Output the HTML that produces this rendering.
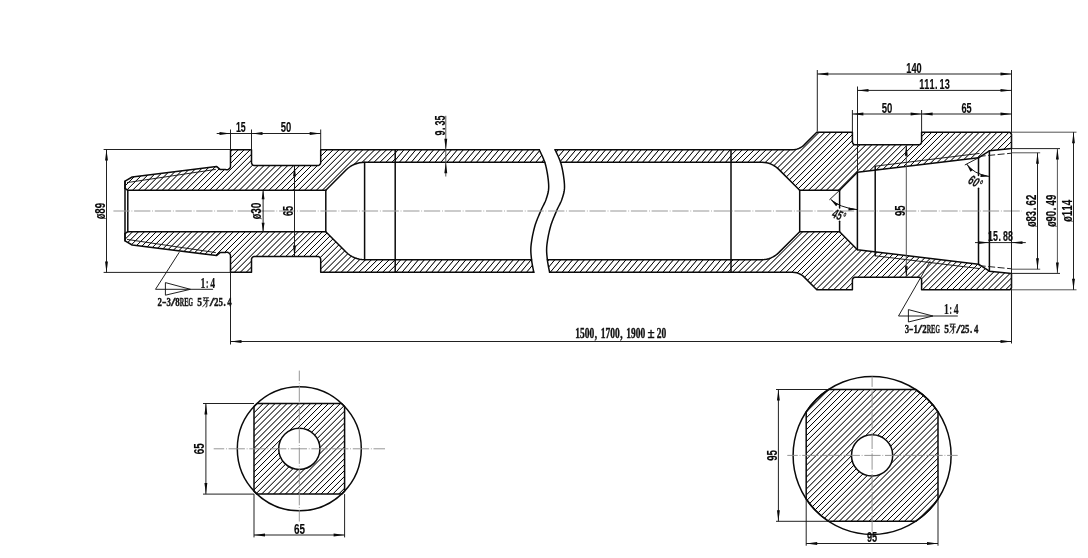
<!DOCTYPE html>
<html><head><meta charset="utf-8"><title>drawing</title>
<style>html,body{margin:0;padding:0;background:#fff}svg{display:block;will-change:transform}</style>
</head><body>
<svg width="1088" height="558" viewBox="0 0 1088 558">
<defs>
<clipPath id="cA"><rect x="0" y="0" width="395.2" height="558"/><rect x="731" y="0" width="357" height="558"/></clipPath>
<clipPath id="cB"><rect x="395.2" y="0" width="335.8" height="558"/></clipPath>
<style>
.k{fill:none;stroke:#0a0a0a;stroke-width:1.5;stroke-linejoin:round;stroke-linecap:round}
.t{fill:none;stroke:#151515;stroke-width:0.95}
.k2{fill:none;stroke:#111;stroke-width:1.0}
.g{fill:none;stroke:#4a4a4a;stroke-width:0.95}
.c{fill:none;stroke:#989898;stroke-width:1.15;stroke-dasharray:16.3 1.8 0.8 1.8}
.c2{fill:none;stroke:#8a8a8a;stroke-width:0.9;stroke-dasharray:16.3 1.8 0.8 1.8;stroke-dashoffset:5.8}
.hl{fill:none;stroke:#000;stroke-width:0.99}
.hl2{fill:none;stroke:#000;stroke-width:0.99;stroke-opacity:0.3}
.a{fill:#0a0a0a;stroke:none}
.n{font-family:"Liberation Sans",sans-serif;font-weight:bold;fill:#0a0a0a;stroke:#0a0a0a;stroke-width:0.15}
.i{font-family:"Liberation Sans",sans-serif;font-style:italic;font-weight:bold;fill:#111;stroke:#111;stroke-width:0.2}
.s2{font-family:"Liberation Serif",serif;font-weight:bold;fill:#111;stroke:#111;stroke-width:0.2}
.s{font-family:"Liberation Serif",serif;font-weight:bold;fill:#111;stroke:#111;stroke-width:0.4}
</style>
</defs>
<rect width="1088" height="558" fill="#fff"/>
<clipPath id="pA" clip-path="url(#cA)"><path d="M125,188.3 L125,181.2 L132.2,177 L216.5,166.4 L220.3,169.6 L225.6,169.6 L226.16,169.64 L227.18,169.68 L228.17,169.44 L229.05,168.94 L229.77,168.21 L230.26,167.32 L230.49,166.32 L230.5,149.7 L251.5,149.7 L251.5,162.5 L251.5,162.5 L251.6,163.28 L251.9,164 L252.38,164.62 L253,165.1 L253.72,165.4 L254.5,165.5 L317.7,165.5 L318.48,165.4 L319.2,165.1 L319.82,164.62 L320.3,164 L320.6,163.28 L320.7,162.5 L320.7,149.7 L539.3,149.7 L539.61,150.42 L540.02,151.3 L540.51,152.32 L541.05,153.46 L541.64,154.7 L542.26,156.04 L542.88,157.45 L543.5,158.91 L544.1,160.42 L544.66,161.94 L544.78,162.3 L364.6,162.3 L364.6,162.3 L362.02,162.43 L359.47,162.81 L356.97,163.43 L354.54,164.3 L352.2,165.41 L349.99,166.73 L347.92,168.27 L346,170 L325.8,190.3 L127.8,190.3Z M555.1,149.7 L792.6,149.7 L792.6,149.7 L794.74,149.56 L796.84,149.14 L798.88,148.45 L800.8,147.5 L802.58,146.31 L804.2,144.9 L816.8,132.2 L852.4,132.2 L852.4,141.8 L852.4,141.8 L852.5,142.58 L852.8,143.3 L853.28,143.92 L853.9,144.4 L854.62,144.7 L855.4,144.8 L918.6,144.8 L919.38,144.7 L920.1,144.4 L920.72,143.92 L921.2,143.3 L921.5,142.58 L921.6,141.8 L921.6,132.2 L1010,132.2 L1011.5,134.2 L1011.5,148.6 L989.4,150.8 L978.5,157.8 L857.4,172.3 L839.6,190.3 L799.7,190.3 L778.55,169.15 L776.84,167.61 L775,166.24 L773.03,165.06 L770.95,164.08 L768.79,163.31 L766.57,162.75 L764.29,162.41 L762,162.3 L560.58,162.3 L560.46,161.94 L559.9,160.42 L559.3,158.91 L558.68,157.45 L558.06,156.04 L557.44,154.7 L556.85,153.46 L556.31,152.32 L555.82,151.3 L555.41,150.42Z M125,233.7 L125,240.8 L132.2,245 L216.5,255.6 L220.3,252.4 L225.6,252.4 L226.16,252.36 L227.18,252.32 L228.17,252.56 L229.05,253.06 L229.77,253.79 L230.26,254.68 L230.49,255.68 L230.5,272.3 L251.5,272.3 L251.5,259.5 L251.5,259.5 L251.6,258.72 L251.9,258 L252.38,257.38 L253,256.9 L253.72,256.6 L254.5,256.5 L317.7,256.5 L318.48,256.6 L319.2,256.9 L319.82,257.38 L320.3,258 L320.6,258.72 L320.7,259.5 L320.7,272.3 L533.8,272.3 L533.69,271.71 L533.54,270.98 L533.37,270.13 L533.17,269.17 L532.96,268.13 L532.74,267.02 L532.51,265.87 L532.3,264.68 L532.09,263.48 L531.9,262.29 L531.73,261.12 L531.6,260 L531.57,259.7 L364.6,259.7 L364.6,259.7 L362.02,259.57 L359.47,259.19 L356.97,258.57 L354.54,257.7 L352.2,256.59 L349.99,255.27 L347.92,253.73 L346,252 L325.8,231.7 L127.8,231.7Z M549.6,272.3 L792.6,272.3 L792.6,272.3 L794.74,272.44 L796.84,272.86 L798.88,273.55 L800.8,274.5 L802.58,275.69 L804.2,277.1 L816.8,289.8 L852.4,289.8 L852.4,280.2 L852.4,280.2 L852.5,279.42 L852.8,278.7 L853.28,278.08 L853.9,277.6 L854.62,277.3 L855.4,277.2 L918.6,277.2 L919.38,277.3 L920.1,277.6 L920.72,278.08 L921.2,278.7 L921.5,279.42 L921.6,280.2 L921.6,289.8 L1010,289.8 L1011.5,287.8 L1011.5,273.4 L989.4,271.2 L978.5,264.2 L857.4,249.7 L839.6,231.7 L799.7,231.7 L778.55,252.85 L776.84,254.39 L775,255.76 L773.03,256.94 L770.95,257.92 L768.79,258.69 L766.57,259.25 L764.29,259.59 L762,259.7 L547.37,259.7 L547.4,260 L547.53,261.12 L547.7,262.29 L547.89,263.48 L548.1,264.68 L548.31,265.87 L548.54,267.02 L548.76,268.13 L548.97,269.17 L549.17,270.13 L549.34,270.98 L549.49,271.71Z"/></clipPath>
<clipPath id="pB" clip-path="url(#cB)"><path d="M125,188.3 L125,181.2 L132.2,177 L216.5,166.4 L220.3,169.6 L225.6,169.6 L226.16,169.64 L227.18,169.68 L228.17,169.44 L229.05,168.94 L229.77,168.21 L230.26,167.32 L230.49,166.32 L230.5,149.7 L251.5,149.7 L251.5,162.5 L251.5,162.5 L251.6,163.28 L251.9,164 L252.38,164.62 L253,165.1 L253.72,165.4 L254.5,165.5 L317.7,165.5 L318.48,165.4 L319.2,165.1 L319.82,164.62 L320.3,164 L320.6,163.28 L320.7,162.5 L320.7,149.7 L539.3,149.7 L539.61,150.42 L540.02,151.3 L540.51,152.32 L541.05,153.46 L541.64,154.7 L542.26,156.04 L542.88,157.45 L543.5,158.91 L544.1,160.42 L544.66,161.94 L544.78,162.3 L364.6,162.3 L364.6,162.3 L362.02,162.43 L359.47,162.81 L356.97,163.43 L354.54,164.3 L352.2,165.41 L349.99,166.73 L347.92,168.27 L346,170 L325.8,190.3 L127.8,190.3Z M555.1,149.7 L792.6,149.7 L792.6,149.7 L794.74,149.56 L796.84,149.14 L798.88,148.45 L800.8,147.5 L802.58,146.31 L804.2,144.9 L816.8,132.2 L852.4,132.2 L852.4,141.8 L852.4,141.8 L852.5,142.58 L852.8,143.3 L853.28,143.92 L853.9,144.4 L854.62,144.7 L855.4,144.8 L918.6,144.8 L919.38,144.7 L920.1,144.4 L920.72,143.92 L921.2,143.3 L921.5,142.58 L921.6,141.8 L921.6,132.2 L1010,132.2 L1011.5,134.2 L1011.5,148.6 L989.4,150.8 L978.5,157.8 L857.4,172.3 L839.6,190.3 L799.7,190.3 L778.55,169.15 L776.84,167.61 L775,166.24 L773.03,165.06 L770.95,164.08 L768.79,163.31 L766.57,162.75 L764.29,162.41 L762,162.3 L560.58,162.3 L560.46,161.94 L559.9,160.42 L559.3,158.91 L558.68,157.45 L558.06,156.04 L557.44,154.7 L556.85,153.46 L556.31,152.32 L555.82,151.3 L555.41,150.42Z M125,233.7 L125,240.8 L132.2,245 L216.5,255.6 L220.3,252.4 L225.6,252.4 L226.16,252.36 L227.18,252.32 L228.17,252.56 L229.05,253.06 L229.77,253.79 L230.26,254.68 L230.49,255.68 L230.5,272.3 L251.5,272.3 L251.5,259.5 L251.5,259.5 L251.6,258.72 L251.9,258 L252.38,257.38 L253,256.9 L253.72,256.6 L254.5,256.5 L317.7,256.5 L318.48,256.6 L319.2,256.9 L319.82,257.38 L320.3,258 L320.6,258.72 L320.7,259.5 L320.7,272.3 L533.8,272.3 L533.69,271.71 L533.54,270.98 L533.37,270.13 L533.17,269.17 L532.96,268.13 L532.74,267.02 L532.51,265.87 L532.3,264.68 L532.09,263.48 L531.9,262.29 L531.73,261.12 L531.6,260 L531.57,259.7 L364.6,259.7 L364.6,259.7 L362.02,259.57 L359.47,259.19 L356.97,258.57 L354.54,257.7 L352.2,256.59 L349.99,255.27 L347.92,253.73 L346,252 L325.8,231.7 L127.8,231.7Z M549.6,272.3 L792.6,272.3 L792.6,272.3 L794.74,272.44 L796.84,272.86 L798.88,273.55 L800.8,274.5 L802.58,275.69 L804.2,277.1 L816.8,289.8 L852.4,289.8 L852.4,280.2 L852.4,280.2 L852.5,279.42 L852.8,278.7 L853.28,278.08 L853.9,277.6 L854.62,277.3 L855.4,277.2 L918.6,277.2 L919.38,277.3 L920.1,277.6 L920.72,278.08 L921.2,278.7 L921.5,279.42 L921.6,280.2 L921.6,289.8 L1010,289.8 L1011.5,287.8 L1011.5,273.4 L989.4,271.2 L978.5,264.2 L857.4,249.7 L839.6,231.7 L799.7,231.7 L778.55,252.85 L776.84,254.39 L775,255.76 L773.03,256.94 L770.95,257.92 L768.79,258.69 L766.57,259.25 L764.29,259.59 L762,259.7 L547.37,259.7 L547.4,260 L547.53,261.12 L547.7,262.29 L547.89,263.48 L548.1,264.68 L548.31,265.87 L548.54,267.02 L548.76,268.13 L548.97,269.17 L549.17,270.13 L549.34,270.98 L549.49,271.71Z"/></clipPath>
<g clip-path="url(#pA)"><path class="hl" d="M117.73,128 L-48.27,294 M123.66,128 L-42.34,294 M129.59,128 L-36.41,294 M135.52,128 L-30.48,294 M141.45,128 L-24.55,294 M147.38,128 L-18.62,294 M153.31,128 L-12.69,294 M159.24,128 L-6.76,294 M165.17,128 L-0.83,294 M171.1,128 L5.1,294 M177.03,128 L11.03,294 M182.96,128 L16.96,294 M188.89,128 L22.89,294 M194.82,128 L28.82,294 M200.75,128 L34.75,294 M206.68,128 L40.68,294 M212.61,128 L46.61,294 M218.54,128 L52.54,294 M224.47,128 L58.47,294 M230.4,128 L64.4,294 M236.33,128 L70.33,294 M242.26,128 L76.26,294 M248.19,128 L82.19,294 M254.12,128 L88.12,294 M260.05,128 L94.05,294 M265.98,128 L99.98,294 M271.91,128 L105.91,294 M277.84,128 L111.84,294 M283.77,128 L117.77,294 M289.7,128 L123.7,294 M295.63,128 L129.63,294 M301.56,128 L135.56,294 M307.49,128 L141.49,294 M313.42,128 L147.42,294 M319.35,128 L153.35,294 M325.28,128 L159.28,294 M331.21,128 L165.21,294 M337.14,128 L171.14,294 M343.07,128 L177.07,294 M349,128 L183,294 M354.93,128 L188.93,294 M360.86,128 L194.86,294 M366.79,128 L200.79,294 M372.72,128 L206.72,294 M378.65,128 L212.65,294 M384.58,128 L218.58,294 M390.51,128 L224.51,294 M396.44,128 L230.44,294 M402.37,128 L236.37,294 M408.3,128 L242.3,294 M414.23,128 L248.23,294 M420.16,128 L254.16,294 M426.09,128 L260.09,294 M432.02,128 L266.02,294 M437.95,128 L271.95,294 M443.88,128 L277.88,294 M449.81,128 L283.81,294 M455.74,128 L289.74,294 M461.67,128 L295.67,294 M467.6,128 L301.6,294 M473.53,128 L307.53,294 M479.46,128 L313.46,294 M485.39,128 L319.39,294 M491.32,128 L325.32,294 M497.25,128 L331.25,294 M503.18,128 L337.18,294 M509.11,128 L343.11,294 M515.04,128 L349.04,294 M520.97,128 L354.97,294 M526.9,128 L360.9,294 M532.83,128 L366.83,294 M538.76,128 L372.76,294 M544.69,128 L378.69,294 M550.62,128 L384.62,294 M556.55,128 L390.55,294 M562.48,128 L396.48,294"/><path class="hl" d="M728.52,128 L562.52,294 M734.45,128 L568.45,294 M740.38,128 L574.38,294 M746.31,128 L580.31,294 M752.24,128 L586.24,294 M758.17,128 L592.17,294 M764.1,128 L598.1,294 M770.03,128 L604.03,294 M775.96,128 L609.96,294 M781.89,128 L615.89,294 M787.82,128 L621.82,294 M793.75,128 L627.75,294 M799.68,128 L633.68,294 M805.61,128 L639.61,294 M811.54,128 L645.54,294 M817.47,128 L651.47,294 M823.4,128 L657.4,294 M829.33,128 L663.33,294 M835.26,128 L669.26,294 M841.19,128 L675.19,294 M847.12,128 L681.12,294 M853.05,128 L687.05,294 M858.98,128 L692.98,294 M864.91,128 L698.91,294 M870.84,128 L704.84,294 M876.77,128 L710.77,294 M882.7,128 L716.7,294 M888.63,128 L722.63,294 M894.56,128 L728.56,294 M900.49,128 L734.49,294 M906.42,128 L740.42,294 M912.35,128 L746.35,294 M918.28,128 L752.28,294 M924.21,128 L758.21,294 M930.14,128 L764.14,294 M936.07,128 L770.07,294 M942,128 L776,294 M947.93,128 L781.93,294 M953.86,128 L787.86,294 M959.79,128 L793.79,294 M965.72,128 L799.72,294 M971.65,128 L805.65,294 M977.58,128 L811.58,294 M983.51,128 L817.51,294 M989.44,128 L823.44,294 M995.37,128 L829.37,294 M1001.3,128 L835.3,294 M1007.23,128 L841.23,294 M1013.16,128 L847.16,294 M1019.09,128 L853.09,294 M1025.02,128 L859.02,294 M1030.95,128 L864.95,294 M1036.88,128 L870.88,294 M1042.81,128 L876.81,294 M1048.74,128 L882.74,294 M1054.67,128 L888.67,294 M1060.6,128 L894.6,294 M1066.53,128 L900.53,294 M1072.46,128 L906.46,294 M1078.39,128 L912.39,294 M1084.32,128 L918.32,294 M1090.25,128 L924.25,294 M1096.18,128 L930.18,294 M1102.11,128 L936.11,294 M1108.04,128 L942.04,294 M1113.97,128 L947.97,294 M1119.9,128 L953.9,294 M1125.83,128 L959.83,294 M1131.76,128 L965.76,294 M1137.69,128 L971.69,294 M1143.62,128 L977.62,294 M1149.55,128 L983.55,294 M1155.48,128 L989.48,294 M1161.41,128 L995.41,294 M1167.34,128 L1001.34,294 M1173.27,128 L1007.27,294 M1179.2,128 L1013.2,294 M1185.13,128 L1019.13,294"/><path class="hl2" d="M117.73,128 L-48.27,294 M123.66,128 L-42.34,294 M129.59,128 L-36.41,294 M135.52,128 L-30.48,294 M141.45,128 L-24.55,294 M147.38,128 L-18.62,294 M153.31,128 L-12.69,294 M159.24,128 L-6.76,294 M165.17,128 L-0.83,294 M171.1,128 L5.1,294 M177.03,128 L11.03,294 M182.96,128 L16.96,294 M188.89,128 L22.89,294 M194.82,128 L28.82,294 M200.75,128 L34.75,294 M206.68,128 L40.68,294 M212.61,128 L46.61,294 M218.54,128 L52.54,294 M224.47,128 L58.47,294 M230.4,128 L64.4,294 M236.33,128 L70.33,294 M242.26,128 L76.26,294 M248.19,128 L82.19,294 M254.12,128 L88.12,294 M260.05,128 L94.05,294 M265.98,128 L99.98,294 M271.91,128 L105.91,294 M277.84,128 L111.84,294 M283.77,128 L117.77,294 M289.7,128 L123.7,294 M295.63,128 L129.63,294 M301.56,128 L135.56,294 M307.49,128 L141.49,294 M313.42,128 L147.42,294 M319.35,128 L153.35,294 M325.28,128 L159.28,294 M331.21,128 L165.21,294 M337.14,128 L171.14,294 M343.07,128 L177.07,294 M349,128 L183,294 M354.93,128 L188.93,294 M360.86,128 L194.86,294 M366.79,128 L200.79,294 M372.72,128 L206.72,294 M378.65,128 L212.65,294 M384.58,128 L218.58,294 M390.51,128 L224.51,294 M396.44,128 L230.44,294 M402.37,128 L236.37,294 M408.3,128 L242.3,294 M414.23,128 L248.23,294 M420.16,128 L254.16,294 M426.09,128 L260.09,294 M432.02,128 L266.02,294 M437.95,128 L271.95,294 M443.88,128 L277.88,294 M449.81,128 L283.81,294 M455.74,128 L289.74,294 M461.67,128 L295.67,294 M467.6,128 L301.6,294 M473.53,128 L307.53,294 M479.46,128 L313.46,294 M485.39,128 L319.39,294 M491.32,128 L325.32,294 M497.25,128 L331.25,294 M503.18,128 L337.18,294 M509.11,128 L343.11,294 M515.04,128 L349.04,294 M520.97,128 L354.97,294 M526.9,128 L360.9,294 M532.83,128 L366.83,294 M538.76,128 L372.76,294 M544.69,128 L378.69,294 M550.62,128 L384.62,294 M556.55,128 L390.55,294 M562.48,128 L396.48,294"/><path class="hl2" d="M728.52,128 L562.52,294 M734.45,128 L568.45,294 M740.38,128 L574.38,294 M746.31,128 L580.31,294 M752.24,128 L586.24,294 M758.17,128 L592.17,294 M764.1,128 L598.1,294 M770.03,128 L604.03,294 M775.96,128 L609.96,294 M781.89,128 L615.89,294 M787.82,128 L621.82,294 M793.75,128 L627.75,294 M799.68,128 L633.68,294 M805.61,128 L639.61,294 M811.54,128 L645.54,294 M817.47,128 L651.47,294 M823.4,128 L657.4,294 M829.33,128 L663.33,294 M835.26,128 L669.26,294 M841.19,128 L675.19,294 M847.12,128 L681.12,294 M853.05,128 L687.05,294 M858.98,128 L692.98,294 M864.91,128 L698.91,294 M870.84,128 L704.84,294 M876.77,128 L710.77,294 M882.7,128 L716.7,294 M888.63,128 L722.63,294 M894.56,128 L728.56,294 M900.49,128 L734.49,294 M906.42,128 L740.42,294 M912.35,128 L746.35,294 M918.28,128 L752.28,294 M924.21,128 L758.21,294 M930.14,128 L764.14,294 M936.07,128 L770.07,294 M942,128 L776,294 M947.93,128 L781.93,294 M953.86,128 L787.86,294 M959.79,128 L793.79,294 M965.72,128 L799.72,294 M971.65,128 L805.65,294 M977.58,128 L811.58,294 M983.51,128 L817.51,294 M989.44,128 L823.44,294 M995.37,128 L829.37,294 M1001.3,128 L835.3,294 M1007.23,128 L841.23,294 M1013.16,128 L847.16,294 M1019.09,128 L853.09,294 M1025.02,128 L859.02,294 M1030.95,128 L864.95,294 M1036.88,128 L870.88,294 M1042.81,128 L876.81,294 M1048.74,128 L882.74,294 M1054.67,128 L888.67,294 M1060.6,128 L894.6,294 M1066.53,128 L900.53,294 M1072.46,128 L906.46,294 M1078.39,128 L912.39,294 M1084.32,128 L918.32,294 M1090.25,128 L924.25,294 M1096.18,128 L930.18,294 M1102.11,128 L936.11,294 M1108.04,128 L942.04,294 M1113.97,128 L947.97,294 M1119.9,128 L953.9,294 M1125.83,128 L959.83,294 M1131.76,128 L965.76,294 M1137.69,128 L971.69,294 M1143.62,128 L977.62,294 M1149.55,128 L983.55,294 M1155.48,128 L989.48,294 M1161.41,128 L995.41,294 M1167.34,128 L1001.34,294 M1173.27,128 L1007.27,294 M1179.2,128 L1013.2,294 M1185.13,128 L1019.13,294"/></g>
<g clip-path="url(#pB)"><path class="hl" d="M389.35,146 L280.28,276 M395.28,146 L286.21,276 M401.21,146 L292.14,276 M407.14,146 L298.07,276 M413.07,146 L304,276 M419,146 L309.93,276 M424.93,146 L315.86,276 M430.86,146 L321.79,276 M436.79,146 L327.72,276 M442.72,146 L333.65,276 M448.65,146 L339.58,276 M454.58,146 L345.51,276 M460.51,146 L351.44,276 M466.44,146 L357.37,276 M472.37,146 L363.3,276 M478.3,146 L369.23,276 M484.23,146 L375.16,276 M490.16,146 L381.09,276 M496.09,146 L387.02,276 M502.02,146 L392.95,276 M507.95,146 L398.88,276 M513.88,146 L404.81,276 M519.81,146 L410.74,276 M525.74,146 L416.67,276 M531.67,146 L422.6,276 M537.6,146 L428.53,276 M543.53,146 L434.46,276 M549.46,146 L440.39,276 M555.39,146 L446.32,276 M561.32,146 L452.25,276 M567.25,146 L458.18,276 M573.18,146 L464.11,276 M579.11,146 L470.04,276 M585.04,146 L475.97,276 M590.97,146 L481.9,276 M596.9,146 L487.83,276 M602.83,146 L493.76,276 M608.76,146 L499.69,276 M614.69,146 L505.62,276 M620.62,146 L511.55,276 M626.55,146 L517.48,276 M632.48,146 L523.41,276 M638.41,146 L529.34,276 M644.34,146 L535.27,276 M650.27,146 L541.2,276 M656.2,146 L547.13,276 M662.13,146 L553.06,276 M668.06,146 L558.99,276 M673.99,146 L564.92,276 M679.92,146 L570.85,276 M685.85,146 L576.78,276 M691.78,146 L582.71,276 M697.71,146 L588.64,276 M703.64,146 L594.57,276 M709.57,146 L600.5,276 M715.5,146 L606.43,276 M721.43,146 L612.36,276 M727.36,146 L618.29,276 M733.29,146 L624.22,276 M739.22,146 L630.15,276 M745.15,146 L636.08,276 M751.08,146 L642.01,276 M757.01,146 L647.94,276 M762.94,146 L653.87,276 M768.87,146 L659.8,276 M774.8,146 L665.73,276 M780.73,146 L671.66,276 M786.66,146 L677.59,276 M792.59,146 L683.52,276 M798.52,146 L689.45,276 M804.45,146 L695.38,276 M810.38,146 L701.31,276 M816.31,146 L707.24,276 M822.24,146 L713.17,276 M828.17,146 L719.1,276 M834.1,146 L725.03,276 M840.03,146 L730.96,276 M845.96,146 L736.89,276"/><path class="hl2" d="M389.35,146 L280.28,276 M395.28,146 L286.21,276 M401.21,146 L292.14,276 M407.14,146 L298.07,276 M413.07,146 L304,276 M419,146 L309.93,276 M424.93,146 L315.86,276 M430.86,146 L321.79,276 M436.79,146 L327.72,276 M442.72,146 L333.65,276 M448.65,146 L339.58,276 M454.58,146 L345.51,276 M460.51,146 L351.44,276 M466.44,146 L357.37,276 M472.37,146 L363.3,276 M478.3,146 L369.23,276 M484.23,146 L375.16,276 M490.16,146 L381.09,276 M496.09,146 L387.02,276 M502.02,146 L392.95,276 M507.95,146 L398.88,276 M513.88,146 L404.81,276 M519.81,146 L410.74,276 M525.74,146 L416.67,276 M531.67,146 L422.6,276 M537.6,146 L428.53,276 M543.53,146 L434.46,276 M549.46,146 L440.39,276 M555.39,146 L446.32,276 M561.32,146 L452.25,276 M567.25,146 L458.18,276 M573.18,146 L464.11,276 M579.11,146 L470.04,276 M585.04,146 L475.97,276 M590.97,146 L481.9,276 M596.9,146 L487.83,276 M602.83,146 L493.76,276 M608.76,146 L499.69,276 M614.69,146 L505.62,276 M620.62,146 L511.55,276 M626.55,146 L517.48,276 M632.48,146 L523.41,276 M638.41,146 L529.34,276 M644.34,146 L535.27,276 M650.27,146 L541.2,276 M656.2,146 L547.13,276 M662.13,146 L553.06,276 M668.06,146 L558.99,276 M673.99,146 L564.92,276 M679.92,146 L570.85,276 M685.85,146 L576.78,276 M691.78,146 L582.71,276 M697.71,146 L588.64,276 M703.64,146 L594.57,276 M709.57,146 L600.5,276 M715.5,146 L606.43,276 M721.43,146 L612.36,276 M727.36,146 L618.29,276 M733.29,146 L624.22,276 M739.22,146 L630.15,276 M745.15,146 L636.08,276 M751.08,146 L642.01,276 M757.01,146 L647.94,276 M762.94,146 L653.87,276 M768.87,146 L659.8,276 M774.8,146 L665.73,276 M780.73,146 L671.66,276 M786.66,146 L677.59,276 M792.59,146 L683.52,276 M798.52,146 L689.45,276 M804.45,146 L695.38,276 M810.38,146 L701.31,276 M816.31,146 L707.24,276 M822.24,146 L713.17,276 M828.17,146 L719.1,276 M834.1,146 L725.03,276 M840.03,146 L730.96,276 M845.96,146 L736.89,276"/></g>
<path class="k" d="M125,188.3 L125,181.2 L132.2,177 L216.5,166.4 L220.3,169.6 L225.6,169.6 L226.16,169.64 L227.18,169.68 L228.17,169.44 L229.05,168.94 L229.77,168.21 L230.26,167.32 L230.49,166.32 L230.5,149.7 L251.5,149.7 L251.5,162.5 L251.5,162.5 L251.6,163.28 L251.9,164 L252.38,164.62 L253,165.1 L253.72,165.4 L254.5,165.5 L317.7,165.5 L318.48,165.4 L319.2,165.1 L319.82,164.62 L320.3,164 L320.6,163.28 L320.7,162.5 L320.7,149.7 L539.3,149.7"/>
<path class="k" d="M544.78,162.3 L364.6,162.3 L364.6,162.3 L362.02,162.43 L359.47,162.81 L356.97,163.43 L354.54,164.3 L352.2,165.41 L349.99,166.73 L347.92,168.27 L346,170 L325.8,190.3 L127.8,190.3 L125,188.3"/>
<path class="k" d="M555.1,149.7 L792.6,149.7 L792.6,149.7 L794.74,149.56 L796.84,149.14 L798.88,148.45 L800.8,147.5 L802.58,146.31 L804.2,144.9 L816.8,132.2 L852.4,132.2 L852.4,141.8 L852.4,141.8 L852.5,142.58 L852.8,143.3 L853.28,143.92 L853.9,144.4 L854.62,144.7 L855.4,144.8 L918.6,144.8 L919.38,144.7 L920.1,144.4 L920.72,143.92 L921.2,143.3 L921.5,142.58 L921.6,141.8 L921.6,132.2 L1010,132.2 L1011.5,134.2 L1011.5,148.6 L989.4,150.8 L978.5,157.8 L857.4,172.3 L839.6,190.3 L799.7,190.3 L778.55,169.15 L776.84,167.61 L775,166.24 L773.03,165.06 L770.95,164.08 L768.79,163.31 L766.57,162.75 L764.29,162.41 L762,162.3 L560.58,162.3"/>
<path class="k" d="M125,233.7 L125,240.8 L132.2,245 L216.5,255.6 L220.3,252.4 L225.6,252.4 L226.16,252.36 L227.18,252.32 L228.17,252.56 L229.05,253.06 L229.77,253.79 L230.26,254.68 L230.49,255.68 L230.5,272.3 L251.5,272.3 L251.5,259.5 L251.5,259.5 L251.6,258.72 L251.9,258 L252.38,257.38 L253,256.9 L253.72,256.6 L254.5,256.5 L317.7,256.5 L318.48,256.6 L319.2,256.9 L319.82,257.38 L320.3,258 L320.6,258.72 L320.7,259.5 L320.7,272.3 L533.8,272.3"/>
<path class="k" d="M531.57,259.7 L364.6,259.7 L364.6,259.7 L362.02,259.57 L359.47,259.19 L356.97,258.57 L354.54,257.7 L352.2,256.59 L349.99,255.27 L347.92,253.73 L346,252 L325.8,231.7 L127.8,231.7 L125,233.7"/>
<path class="k" d="M549.6,272.3 L792.6,272.3 L792.6,272.3 L794.74,272.44 L796.84,272.86 L798.88,273.55 L800.8,274.5 L802.58,275.69 L804.2,277.1 L816.8,289.8 L852.4,289.8 L852.4,280.2 L852.4,280.2 L852.5,279.42 L852.8,278.7 L853.28,278.08 L853.9,277.6 L854.62,277.3 L855.4,277.2 L918.6,277.2 L919.38,277.3 L920.1,277.6 L920.72,278.08 L921.2,278.7 L921.5,279.42 L921.6,280.2 L921.6,289.8 L1010,289.8 L1011.5,287.8 L1011.5,273.4 L989.4,271.2 L978.5,264.2 L857.4,249.7 L839.6,231.7 L799.7,231.7 L778.55,252.85 L776.84,254.39 L775,255.76 L773.03,256.94 L770.95,257.92 L768.79,258.69 L766.57,259.25 L764.29,259.59 L762,259.7 L547.37,259.7"/>
<path class="k" d="M539.3,149.7 L539.61,150.42 L540.02,151.3 L540.51,152.32 L541.05,153.46 L541.64,154.7 L542.26,156.04 L542.88,157.45 L543.5,158.91 L544.1,160.42 L544.66,161.94 L545.17,163.48 L545.6,165 L545.99,166.58 L546.37,168.26 L546.73,170.04 L547.08,171.87 L547.4,173.75 L547.7,175.64 L547.97,177.53 L548.2,179.38 L548.39,181.18 L548.54,182.9 L548.65,184.51 L548.7,186 L548.7,187.37 L548.64,188.64 L548.54,189.84 L548.39,190.96 L548.21,192.03 L547.99,193.06 L547.74,194.06 L547.46,195.04 L547.17,196.01 L546.86,196.98 L546.53,197.98 L546.2,199 L545.85,200.02 L545.46,201.01 L545.05,201.98 L544.61,202.93 L544.15,203.87 L543.68,204.81 L543.19,205.77 L542.69,206.74 L542.19,207.74 L541.69,208.78 L541.19,209.86 L540.7,211 L540.2,212.18 L539.69,213.4 L539.16,214.65 L538.62,215.93 L538.07,217.23 L537.53,218.56 L536.99,219.92 L536.47,221.3 L535.96,222.7 L535.48,224.11 L535.02,225.55 L534.6,227 L534.2,228.49 L533.81,230.05 L533.43,231.66 L533.06,233.3 L532.71,234.96 L532.38,236.62 L532.08,238.29 L531.8,239.93 L531.55,241.53 L531.33,243.09 L531.14,244.58 L531,246 L530.9,247.35 L530.84,248.64 L530.82,249.89 L530.83,251.1 L530.87,252.27 L530.94,253.42 L531.02,254.54 L531.13,255.64 L531.24,256.74 L531.36,257.82 L531.48,258.91 L531.6,260 L531.73,261.12 L531.9,262.29 L532.09,263.48 L532.3,264.68 L532.51,265.87 L532.74,267.02 L532.96,268.13 L533.17,269.17 L533.37,270.13 L533.54,270.98 L533.69,271.71 L533.8,272.3"/>
<path class="k" d="M555.1,149.7 L555.41,150.42 L555.82,151.3 L556.31,152.32 L556.85,153.46 L557.44,154.7 L558.06,156.04 L558.68,157.45 L559.3,158.91 L559.9,160.42 L560.46,161.94 L560.97,163.48 L561.4,165 L561.79,166.58 L562.17,168.26 L562.53,170.04 L562.88,171.87 L563.2,173.75 L563.5,175.64 L563.77,177.53 L564,179.38 L564.19,181.18 L564.34,182.9 L564.45,184.51 L564.5,186 L564.5,187.37 L564.44,188.64 L564.34,189.84 L564.19,190.96 L564.01,192.03 L563.79,193.06 L563.54,194.06 L563.26,195.04 L562.97,196.01 L562.66,196.98 L562.33,197.98 L562,199 L561.65,200.02 L561.26,201.01 L560.85,201.98 L560.41,202.93 L559.95,203.87 L559.48,204.81 L558.99,205.77 L558.49,206.74 L557.99,207.74 L557.49,208.78 L556.99,209.86 L556.5,211 L556,212.18 L555.49,213.4 L554.96,214.65 L554.42,215.93 L553.87,217.23 L553.33,218.56 L552.79,219.92 L552.27,221.3 L551.76,222.7 L551.28,224.11 L550.82,225.55 L550.4,227 L550,228.49 L549.61,230.05 L549.23,231.66 L548.86,233.3 L548.51,234.96 L548.18,236.62 L547.88,238.29 L547.6,239.93 L547.35,241.53 L547.13,243.09 L546.94,244.58 L546.8,246 L546.7,247.35 L546.64,248.64 L546.62,249.89 L546.63,251.1 L546.67,252.27 L546.74,253.42 L546.82,254.54 L546.93,255.64 L547.04,256.74 L547.16,257.82 L547.28,258.91 L547.4,260 L547.53,261.12 L547.7,262.29 L547.89,263.48 L548.1,264.68 L548.31,265.87 L548.54,267.02 L548.76,268.13 L548.97,269.17 L549.17,270.13 L549.34,270.98 L549.49,271.71 L549.6,272.3"/>
<line class="k" x1="125" y1="181.2" x2="125" y2="240.8"/>
<line class="k" x1="127.8" y1="190.3" x2="127.8" y2="231.7"/>
<line class="k" x1="325.8" y1="190.3" x2="325.8" y2="231.7"/>
<line class="k" x1="364.6" y1="162.3" x2="364.6" y2="259.7"/>
<line class="k" x1="395.2" y1="149.7" x2="395.2" y2="272.3"/>
<line class="k" x1="731" y1="149.7" x2="731" y2="272.3"/>
<line class="k" x1="799.7" y1="190.3" x2="799.7" y2="231.7"/>
<line class="k" x1="839.6" y1="190.3" x2="839.6" y2="208"/>
<line class="k" x1="839.6" y1="221.2" x2="839.6" y2="231.7"/>
<line class="k" x1="857.4" y1="172.3" x2="857.4" y2="249.7"/>
<line class="k" x1="875.2" y1="166.2" x2="875.2" y2="255.8"/>
<line class="k" x1="978.5" y1="157.8" x2="978.5" y2="175.6"/>
<line class="k" x1="978.5" y1="188.2" x2="978.5" y2="264.2"/>
<line class="k" x1="989.4" y1="150.8" x2="989.4" y2="271.2"/>
<line class="t" x1="127" y1="182.6" x2="215.8" y2="169.4"/>
<line class="t" x1="875.2" y1="166.2" x2="979.5" y2="153.4"/>
<line class="t" stroke-dasharray="7 2.5" x1="978.7" y1="156.4" x2="1011.5" y2="153.2"/>
<line class="t" x1="127" y1="239.4" x2="215.8" y2="252.6"/>
<line class="t" x1="875.2" y1="255.8" x2="979.5" y2="268.6"/>
<line class="t" stroke-dasharray="7 2.5" x1="978.7" y1="265.6" x2="1011.5" y2="268.8"/>
<line class="c" x1="113.4" y1="211" x2="1022" y2="211"/>
<line class="t" x1="103.6" y1="149.5" x2="230.5" y2="149.5"/>
<line class="t" x1="103.6" y1="272.4" x2="230.5" y2="272.4"/>
<line class="t" x1="106.5" y1="149.5" x2="106.5" y2="272.4"/>
<path class="a" d="M106.5,149.5 L107.95,160.5 L105.05,160.5 Z"/>
<path class="a" d="M106.5,272.4 L105.05,261.4 L107.95,261.4 Z"/>
<g transform="translate(104.9 218.8) rotate(-90)"><text class="n" x="-0.3" y="0" font-size="14.6" textLength="5.4" lengthAdjust="spacingAndGlyphs">ø</text><text class="n" x="5.1" y="0" font-size="14.6" textLength="5.4" lengthAdjust="spacingAndGlyphs">8</text><text class="n" x="10.5" y="0" font-size="14.6" textLength="5.4" lengthAdjust="spacingAndGlyphs">9</text></g>
<line class="t" x1="263.1" y1="190.3" x2="263.1" y2="231.7"/>
<path class="a" d="M263.1,190.3 L264.55,199.3 L261.65,199.3 Z"/>
<path class="a" d="M263.1,231.7 L261.65,222.7 L264.55,222.7 Z"/>
<g transform="translate(261.4 219.05) rotate(-90)"><text class="n" x="-0.3" y="0" font-size="14.6" textLength="5.57" lengthAdjust="spacingAndGlyphs">ø</text><text class="n" x="5.27" y="0" font-size="14.6" textLength="5.57" lengthAdjust="spacingAndGlyphs">3</text><text class="n" x="10.83" y="0" font-size="14.6" textLength="5.57" lengthAdjust="spacingAndGlyphs">0</text></g>
<line class="t" x1="294.5" y1="165.5" x2="294.5" y2="256.5"/>
<path class="a" d="M294.5,165.5 L295.95,176.5 L293.05,176.5 Z"/>
<path class="a" d="M294.5,256.5 L293.05,245.5 L295.95,245.5 Z"/>
<g transform="translate(292.9 215.8) rotate(-90)"><text class="n" x="-0.3" y="0" font-size="14.6" textLength="5.1" lengthAdjust="spacingAndGlyphs">6</text><text class="n" x="4.8" y="0" font-size="14.6" textLength="5.1" lengthAdjust="spacingAndGlyphs">5</text></g>
<line class="t" x1="216.7" y1="133.5" x2="320.7" y2="133.5"/>
<line class="t" x1="230.5" y1="129.5" x2="230.5" y2="149.5"/>
<line class="t" x1="251.5" y1="129.5" x2="251.5" y2="149.7"/>
<line class="t" x1="320.7" y1="129.5" x2="320.7" y2="149.7"/>
<path class="a" d="M230.5,133.5 L219.5,134.95 L219.5,132.05 Z"/>
<path class="a" d="M251.5,133.5 L262.5,132.05 L262.5,134.95 Z"/>
<path class="a" d="M320.7,133.5 L309.7,134.95 L309.7,132.05 Z"/>
<g transform="translate(236.2 132)"><text class="n" x="-0.3" y="0" font-size="14.6" textLength="4.9" lengthAdjust="spacingAndGlyphs">1</text><text class="n" x="4.6" y="0" font-size="14.6" textLength="4.9" lengthAdjust="spacingAndGlyphs">5</text></g>
<g transform="translate(281 132)"><text class="n" x="-0.3" y="0" font-size="14.6" textLength="5.25" lengthAdjust="spacingAndGlyphs">5</text><text class="n" x="4.95" y="0" font-size="14.6" textLength="5.25" lengthAdjust="spacingAndGlyphs">0</text></g>
<line class="g" x1="445.8" y1="115.8" x2="445.8" y2="176.5"/>
<path class="a" d="M445.8,149.7 L444.35,138.7 L447.25,138.7 Z"/>
<path class="a" d="M445.8,162.3 L447.25,173.3 L444.35,173.3 Z"/>
<g transform="translate(444.5 135.25) rotate(-90)"><text class="n" x="-0.3" y="0" font-size="14.6" textLength="5.03" lengthAdjust="spacingAndGlyphs">9</text><text class="n" x="5.33" y="0" font-size="14.6" textLength="2.51" lengthAdjust="spacingAndGlyphs">.</text><text class="n" x="9.75" y="0" font-size="14.6" textLength="5.03" lengthAdjust="spacingAndGlyphs">3</text><text class="n" x="14.78" y="0" font-size="14.6" textLength="5.03" lengthAdjust="spacingAndGlyphs">5</text></g>
<line class="t" x1="817.3" y1="74" x2="1011.5" y2="74"/>
<line class="t" x1="817.3" y1="70" x2="817.3" y2="131.5"/>
<line class="t" x1="1011.5" y1="70" x2="1011.5" y2="343.5"/>
<path class="a" d="M817.3,74 L828.3,72.55 L828.3,75.45 Z"/>
<path class="a" d="M1011.5,74 L1000.5,75.45 L1000.5,72.55 Z"/>
<g transform="translate(906.6 72.6)"><text class="n" x="-0.3" y="0" font-size="14.6" textLength="5.13" lengthAdjust="spacingAndGlyphs">1</text><text class="n" x="4.83" y="0" font-size="14.6" textLength="5.13" lengthAdjust="spacingAndGlyphs">4</text><text class="n" x="9.97" y="0" font-size="14.6" textLength="5.13" lengthAdjust="spacingAndGlyphs">0</text></g>
<line class="t" x1="857.5" y1="90.4" x2="1011.5" y2="90.4"/>
<line class="t" x1="857.5" y1="86.5" x2="857.5" y2="172.3"/>
<path class="a" d="M857.5,90.4 L868.5,88.95 L868.5,91.85 Z"/>
<path class="a" d="M1011.5,90.4 L1000.5,91.85 L1000.5,88.95 Z"/>
<g transform="translate(919.5 89.1)"><text class="n" x="-0.3" y="0" font-size="14.6" textLength="5.1" lengthAdjust="spacingAndGlyphs">1</text><text class="n" x="4.8" y="0" font-size="14.6" textLength="5.1" lengthAdjust="spacingAndGlyphs">1</text><text class="n" x="9.9" y="0" font-size="14.6" textLength="5.1" lengthAdjust="spacingAndGlyphs">1</text><text class="n" x="15.61" y="0" font-size="14.6" textLength="2.55" lengthAdjust="spacingAndGlyphs">.</text><text class="n" x="20.1" y="0" font-size="14.6" textLength="5.1" lengthAdjust="spacingAndGlyphs">1</text><text class="n" x="25.2" y="0" font-size="14.6" textLength="5.1" lengthAdjust="spacingAndGlyphs">3</text></g>
<line class="t" x1="852.4" y1="114" x2="1011.5" y2="114"/>
<line class="t" x1="852.4" y1="110" x2="852.4" y2="132.2"/>
<line class="t" x1="921.6" y1="110" x2="921.6" y2="132.2"/>
<path class="a" d="M852.4,114 L863.4,112.55 L863.4,115.45 Z"/>
<path class="a" d="M921.6,114 L910.6,115.45 L910.6,112.55 Z"/>
<path class="a" d="M921.6,114 L932.6,112.55 L932.6,115.45 Z"/>
<path class="a" d="M1011.5,114 L1000.5,115.45 L1000.5,112.55 Z"/>
<g transform="translate(882 112.5)"><text class="n" x="-0.3" y="0" font-size="14.6" textLength="5.3" lengthAdjust="spacingAndGlyphs">5</text><text class="n" x="5" y="0" font-size="14.6" textLength="5.3" lengthAdjust="spacingAndGlyphs">0</text></g>
<g transform="translate(961.7 112.5)"><text class="n" x="-0.3" y="0" font-size="14.6" textLength="5.1" lengthAdjust="spacingAndGlyphs">6</text><text class="n" x="4.8" y="0" font-size="14.6" textLength="5.1" lengthAdjust="spacingAndGlyphs">5</text></g>
<line class="g" x1="906.3" y1="144.8" x2="906.3" y2="277.2"/>
<path class="a" d="M906.3,144.8 L907.75,155.8 L904.85,155.8 Z"/>
<path class="a" d="M906.3,277.2 L904.85,266.2 L907.75,266.2 Z"/>
<g transform="translate(905.1 215.8) rotate(-90)"><text class="n" x="-0.3" y="0" font-size="14.6" textLength="5.3" lengthAdjust="spacingAndGlyphs">9</text><text class="n" x="5" y="0" font-size="14.6" textLength="5.3" lengthAdjust="spacingAndGlyphs">5</text></g>
<line class="t" x1="975" y1="242.6" x2="1025.8" y2="242.6"/>
<path class="a" d="M989.4,242.6 L978.4,244.05 L978.4,241.15 Z"/>
<path class="a" d="M1011.5,242.6 L1022.5,241.15 L1022.5,244.05 Z"/>
<g transform="translate(988.4 241.3)"><text class="n" x="-0.3" y="0" font-size="14.6" textLength="4.96" lengthAdjust="spacingAndGlyphs">1</text><text class="n" x="4.66" y="0" font-size="14.6" textLength="4.96" lengthAdjust="spacingAndGlyphs">5</text><text class="n" x="10.22" y="0" font-size="14.6" textLength="2.48" lengthAdjust="spacingAndGlyphs">.</text><text class="n" x="14.58" y="0" font-size="14.6" textLength="4.96" lengthAdjust="spacingAndGlyphs">8</text><text class="n" x="19.54" y="0" font-size="14.6" textLength="4.96" lengthAdjust="spacingAndGlyphs">8</text></g>
<line class="g" x1="1011.5" y1="152.8" x2="1040.2" y2="152.8"/>
<line class="g" x1="1011.5" y1="269.2" x2="1040.2" y2="269.2"/>
<line class="t" x1="1037.5" y1="152.8" x2="1037.5" y2="269.2"/>
<path class="a" d="M1037.5,152.8 L1038.95,163.8 L1036.05,163.8 Z"/>
<path class="a" d="M1037.5,269.2 L1036.05,258.2 L1038.95,258.2 Z"/>
<g transform="translate(1036.4 226.55) rotate(-90)"><text class="n" x="-0.3" y="0" font-size="14.6" textLength="5.35" lengthAdjust="spacingAndGlyphs">ø</text><text class="n" x="5.05" y="0" font-size="14.6" textLength="5.35" lengthAdjust="spacingAndGlyphs">8</text><text class="n" x="10.4" y="0" font-size="14.6" textLength="5.35" lengthAdjust="spacingAndGlyphs">3</text><text class="n" x="16.39" y="0" font-size="14.6" textLength="2.68" lengthAdjust="spacingAndGlyphs">.</text><text class="n" x="21.1" y="0" font-size="14.6" textLength="5.35" lengthAdjust="spacingAndGlyphs">6</text><text class="n" x="26.45" y="0" font-size="14.6" textLength="5.35" lengthAdjust="spacingAndGlyphs">2</text></g>
<line class="t" x1="1011.5" y1="148.6" x2="1060" y2="148.6"/>
<line class="t" x1="1011.5" y1="273.4" x2="1060" y2="273.4"/>
<line class="g" x1="1057.4" y1="148.6" x2="1057.4" y2="273.4"/>
<path class="a" d="M1057.4,148.6 L1058.85,159.6 L1055.95,159.6 Z"/>
<path class="a" d="M1057.4,273.4 L1055.95,262.4 L1058.85,262.4 Z"/>
<g transform="translate(1055.9 226.55) rotate(-90)"><text class="n" x="-0.3" y="0" font-size="14.6" textLength="5.35" lengthAdjust="spacingAndGlyphs">ø</text><text class="n" x="5.05" y="0" font-size="14.6" textLength="5.35" lengthAdjust="spacingAndGlyphs">9</text><text class="n" x="10.4" y="0" font-size="14.6" textLength="5.35" lengthAdjust="spacingAndGlyphs">0</text><text class="n" x="16.39" y="0" font-size="14.6" textLength="2.68" lengthAdjust="spacingAndGlyphs">.</text><text class="n" x="21.1" y="0" font-size="14.6" textLength="5.35" lengthAdjust="spacingAndGlyphs">4</text><text class="n" x="26.45" y="0" font-size="14.6" textLength="5.35" lengthAdjust="spacingAndGlyphs">9</text></g>
<line class="g" x1="1011.5" y1="132.2" x2="1076.5" y2="132.2"/>
<line class="g" x1="1011.5" y1="289.8" x2="1076.5" y2="289.8"/>
<line class="t" x1="1073.5" y1="132.2" x2="1073.5" y2="289.8"/>
<path class="a" d="M1073.5,132.2 L1074.95,143.2 L1072.05,143.2 Z"/>
<path class="a" d="M1073.5,289.8 L1072.05,278.8 L1074.95,278.8 Z"/>
<g transform="translate(1072 221.55) rotate(-90)"><text class="n" x="-0.3" y="0" font-size="14.6" textLength="5.53" lengthAdjust="spacingAndGlyphs">ø</text><text class="n" x="5.23" y="0" font-size="14.6" textLength="5.53" lengthAdjust="spacingAndGlyphs">1</text><text class="n" x="10.75" y="0" font-size="14.6" textLength="5.53" lengthAdjust="spacingAndGlyphs">1</text><text class="n" x="16.27" y="0" font-size="14.6" textLength="5.53" lengthAdjust="spacingAndGlyphs">4</text></g>
<line class="t" x1="230.5" y1="341.5" x2="1011.5" y2="341.5"/>
<line class="t" x1="230.5" y1="272.4" x2="230.5" y2="344.5"/>
<path class="a" d="M230.5,341.5 L241.5,340.05 L241.5,342.95 Z"/>
<path class="a" d="M1011.5,341.5 L1000.5,342.95 L1000.5,340.05 Z"/>
<g transform="translate(575.5 337.9)"><text class="s" x="-0.3" y="0" font-size="14.2" textLength="4.75" lengthAdjust="spacingAndGlyphs">1</text><text class="s" x="4.45" y="0" font-size="14.2" textLength="4.75" lengthAdjust="spacingAndGlyphs">5</text><text class="s" x="9.2" y="0" font-size="14.2" textLength="4.75" lengthAdjust="spacingAndGlyphs">0</text><text class="s" x="13.96" y="0" font-size="14.2" textLength="4.75" lengthAdjust="spacingAndGlyphs">0</text><text class="s" x="19.28" y="0" font-size="14.2" textLength="2.38" lengthAdjust="spacingAndGlyphs">,</text><text class="s" x="25.2" y="0" font-size="14.2" textLength="4.75" lengthAdjust="spacingAndGlyphs">1</text><text class="s" x="29.95" y="0" font-size="14.2" textLength="4.75" lengthAdjust="spacingAndGlyphs">7</text><text class="s" x="34.7" y="0" font-size="14.2" textLength="4.75" lengthAdjust="spacingAndGlyphs">0</text><text class="s" x="39.45" y="0" font-size="14.2" textLength="4.75" lengthAdjust="spacingAndGlyphs">0</text><text class="s" x="44.77" y="0" font-size="14.2" textLength="2.38" lengthAdjust="spacingAndGlyphs">,</text><text class="s" x="50.7" y="0" font-size="14.2" textLength="4.75" lengthAdjust="spacingAndGlyphs">1</text><text class="s" x="55.45" y="0" font-size="14.2" textLength="4.75" lengthAdjust="spacingAndGlyphs">9</text><text class="s" x="60.2" y="0" font-size="14.2" textLength="4.75" lengthAdjust="spacingAndGlyphs">0</text><text class="s" x="64.95" y="0" font-size="14.2" textLength="4.75" lengthAdjust="spacingAndGlyphs">0</text><text class="s" x="71.94" y="0" font-size="14.2" textLength="7.13" lengthAdjust="spacingAndGlyphs">±</text><text class="s" x="81.3" y="0" font-size="14.2" textLength="4.75" lengthAdjust="spacingAndGlyphs">2</text><text class="s" x="86.05" y="0" font-size="14.2" textLength="4.75" lengthAdjust="spacingAndGlyphs">0</text></g>
<line class="t" x1="839.6" y1="190.3" x2="829.4" y2="199.8"/>
<path class="k2" d="M830.7,199.4 Q839.5,207.5 857,209.6"/>
<path class="a" d="M830.7,199.4 L838.07,203.89 L836.09,206.14 Z"/>
<path class="a" d="M857,209.6 L848.41,210.42 L848.65,207.43 Z"/>
<g transform="translate(831.6 217.2) rotate(22)"><text class="i" x="-0.3" y="0" font-size="13.5" textLength="4.73" lengthAdjust="spacingAndGlyphs">4</text><text class="i" x="4.43" y="0" font-size="13.5" textLength="4.73" lengthAdjust="spacingAndGlyphs">5</text><text class="i" x="9.73" y="0" font-size="13.5" textLength="2.93" lengthAdjust="spacingAndGlyphs">°</text></g>
<line class="t" x1="978.5" y1="157.8" x2="964.8" y2="165"/>
<path class="k2" d="M966.6,164.0 Q973.5,174.0 989.0,176.4"/>
<path class="a" d="M966.6,164 L972.9,169.9 L970.5,171.7 Z"/>
<path class="a" d="M989,176.4 L980.38,176.88 L980.74,173.9 Z"/>
<g transform="translate(967.6 183.0) rotate(28)"><text class="i" x="-0.3" y="0" font-size="13.5" textLength="4.87" lengthAdjust="spacingAndGlyphs">6</text><text class="i" x="4.57" y="0" font-size="13.5" textLength="4.87" lengthAdjust="spacingAndGlyphs">0</text><text class="i" x="10.02" y="0" font-size="13.5" textLength="3.02" lengthAdjust="spacingAndGlyphs">°</text></g>
<path class="t" d="M179.3,252.2 L155.5,289.3 L213.1,289.3"/>
<path class="t" d="M165.4,282.6 L165.4,295.2 L190.4,289.3 Z"/>
<g transform="translate(200.9 287.8)"><text class="s2" x="-0.3" y="0" font-size="15.2" textLength="4.87" lengthAdjust="spacingAndGlyphs">1</text><text class="s2" x="5.15" y="0" font-size="15.2" textLength="2.43" lengthAdjust="spacingAndGlyphs">:</text><text class="s2" x="9.43" y="0" font-size="15.2" textLength="4.87" lengthAdjust="spacingAndGlyphs">4</text></g>
<path class="t" d="M930.3,260.8 L898.5,316 L957.8,316"/>
<path class="t" d="M908.4,309.6 L908.4,322 L932.9,316 Z"/>
<g transform="translate(944.3 314.3)"><text class="s2" x="-0.3" y="0" font-size="15.2" textLength="4.87" lengthAdjust="spacingAndGlyphs">1</text><text class="s2" x="5.15" y="0" font-size="15.2" textLength="2.43" lengthAdjust="spacingAndGlyphs">:</text><text class="s2" x="9.43" y="0" font-size="15.2" textLength="4.87" lengthAdjust="spacingAndGlyphs">4</text></g>
<clipPath id="ev299"><path clip-rule="evenodd" d="M256.97,403.5 L341.63,403.5 A62,62 0 0 1 344.6,406.47 L344.6,491.13 A62,62 0 0 1 341.63,494.1 L256.97,494.1 A62,62 0 0 1 254,491.13 L254,406.47 A62,62 0 0 1 256.97,403.5 Z M278.7,448.8 a20.6,20.6 0 1 0 41.2,0 a20.6,20.6 0 1 0 -41.2,0 Z"/></clipPath>
<g clip-path="url(#ev299)"><path class="hl" d="M252.4,402.5 L159.8,495.1 M258.33,402.5 L165.73,495.1 M264.26,402.5 L171.66,495.1 M270.19,402.5 L177.59,495.1 M276.12,402.5 L183.52,495.1 M282.05,402.5 L189.45,495.1 M287.98,402.5 L195.38,495.1 M293.91,402.5 L201.31,495.1 M299.84,402.5 L207.24,495.1 M305.77,402.5 L213.17,495.1 M311.7,402.5 L219.1,495.1 M317.63,402.5 L225.03,495.1 M323.56,402.5 L230.96,495.1 M329.49,402.5 L236.89,495.1 M335.42,402.5 L242.82,495.1 M341.35,402.5 L248.75,495.1 M347.28,402.5 L254.68,495.1 M353.21,402.5 L260.61,495.1 M359.14,402.5 L266.54,495.1 M365.07,402.5 L272.47,495.1 M371,402.5 L278.4,495.1 M376.93,402.5 L284.33,495.1 M382.86,402.5 L290.26,495.1 M388.79,402.5 L296.19,495.1 M394.72,402.5 L302.12,495.1 M400.65,402.5 L308.05,495.1 M406.58,402.5 L313.98,495.1 M412.51,402.5 L319.91,495.1 M418.44,402.5 L325.84,495.1 M424.37,402.5 L331.77,495.1 M430.3,402.5 L337.7,495.1 M436.23,402.5 L343.63,495.1 M442.16,402.5 L349.56,495.1"/><path class="hl2" d="M252.4,402.5 L159.8,495.1 M258.33,402.5 L165.73,495.1 M264.26,402.5 L171.66,495.1 M270.19,402.5 L177.59,495.1 M276.12,402.5 L183.52,495.1 M282.05,402.5 L189.45,495.1 M287.98,402.5 L195.38,495.1 M293.91,402.5 L201.31,495.1 M299.84,402.5 L207.24,495.1 M305.77,402.5 L213.17,495.1 M311.7,402.5 L219.1,495.1 M317.63,402.5 L225.03,495.1 M323.56,402.5 L230.96,495.1 M329.49,402.5 L236.89,495.1 M335.42,402.5 L242.82,495.1 M341.35,402.5 L248.75,495.1 M347.28,402.5 L254.68,495.1 M353.21,402.5 L260.61,495.1 M359.14,402.5 L266.54,495.1 M365.07,402.5 L272.47,495.1 M371,402.5 L278.4,495.1 M376.93,402.5 L284.33,495.1 M382.86,402.5 L290.26,495.1 M388.79,402.5 L296.19,495.1 M394.72,402.5 L302.12,495.1 M400.65,402.5 L308.05,495.1 M406.58,402.5 L313.98,495.1 M412.51,402.5 L319.91,495.1 M418.44,402.5 L325.84,495.1 M424.37,402.5 L331.77,495.1 M430.3,402.5 L337.7,495.1 M436.23,402.5 L343.63,495.1 M442.16,402.5 L349.56,495.1"/></g>
<circle class="k" cx="299.3" cy="448.8" r="62"/>
<circle class="k" cx="299.3" cy="448.8" r="20.6"/>
<path class="k" d="M256.97,403.5 L341.63,403.5 A62,62 0 0 1 344.6,406.47 L344.6,491.13 A62,62 0 0 1 341.63,494.1 L256.97,494.1 A62,62 0 0 1 254,491.13 L254,406.47 A62,62 0 0 1 256.97,403.5 Z"/>
<line class="c2" x1="213.7" y1="448.8" x2="385" y2="448.8"/>
<line class="c2" x1="299.3" y1="370.6" x2="299.3" y2="521.5"/>
<line class="t" x1="203" y1="403.5" x2="254" y2="403.5"/>
<line class="t" x1="203" y1="494.1" x2="254" y2="494.1"/>
<line class="t" x1="205.9" y1="403.5" x2="205.9" y2="494.1"/>
<path class="a" d="M205.9,403.5 L207.35,414.5 L204.45,414.5 Z"/>
<path class="a" d="M205.9,494.1 L204.45,483.1 L207.35,483.1 Z"/>
<g transform="translate(204.3 454) rotate(-90)"><text class="n" x="-0.3" y="0" font-size="14.6" textLength="5.5" lengthAdjust="spacingAndGlyphs">6</text><text class="n" x="5.2" y="0" font-size="14.6" textLength="5.5" lengthAdjust="spacingAndGlyphs">5</text></g>
<line class="t" x1="254" y1="494.1" x2="254" y2="537.4"/>
<line class="t" x1="344.6" y1="494.1" x2="344.6" y2="537.4"/>
<line class="t" x1="254" y1="535" x2="344.6" y2="535"/>
<path class="a" d="M254,535 L265,533.55 L265,536.45 Z"/>
<path class="a" d="M344.6,535 L333.6,536.45 L333.6,533.55 Z"/>
<g transform="translate(294.3 533.8)"><text class="n" x="-0.3" y="0" font-size="14.6" textLength="5.5" lengthAdjust="spacingAndGlyphs">6</text><text class="n" x="5.2" y="0" font-size="14.6" textLength="5.5" lengthAdjust="spacingAndGlyphs">5</text></g>
<clipPath id="ev872"><path clip-rule="evenodd" d="M828.53,389.5 L915.67,389.5 A79,79 0 0 1 938,411.83 L938,498.97 A79,79 0 0 1 915.67,521.3 L828.53,521.3 A79,79 0 0 1 806.2,498.97 L806.2,411.83 A79,79 0 0 1 828.53,389.5 Z M851.5,455.4 a20.6,20.6 0 1 0 41.2,0 a20.6,20.6 0 1 0 -41.2,0 Z"/></clipPath>
<g clip-path="url(#ev872)"><path class="hl" d="M800.1,388.5 L666.3,522.3 M806.03,388.5 L672.23,522.3 M811.96,388.5 L678.16,522.3 M817.89,388.5 L684.09,522.3 M823.82,388.5 L690.02,522.3 M829.75,388.5 L695.95,522.3 M835.68,388.5 L701.88,522.3 M841.61,388.5 L707.81,522.3 M847.54,388.5 L713.74,522.3 M853.47,388.5 L719.67,522.3 M859.4,388.5 L725.6,522.3 M865.33,388.5 L731.53,522.3 M871.26,388.5 L737.46,522.3 M877.19,388.5 L743.39,522.3 M883.12,388.5 L749.32,522.3 M889.05,388.5 L755.25,522.3 M894.98,388.5 L761.18,522.3 M900.91,388.5 L767.11,522.3 M906.84,388.5 L773.04,522.3 M912.77,388.5 L778.97,522.3 M918.7,388.5 L784.9,522.3 M924.63,388.5 L790.83,522.3 M930.56,388.5 L796.76,522.3 M936.49,388.5 L802.69,522.3 M942.42,388.5 L808.62,522.3 M948.35,388.5 L814.55,522.3 M954.28,388.5 L820.48,522.3 M960.21,388.5 L826.41,522.3 M966.14,388.5 L832.34,522.3 M972.07,388.5 L838.27,522.3 M978,388.5 L844.2,522.3 M983.93,388.5 L850.13,522.3 M989.86,388.5 L856.06,522.3 M995.79,388.5 L861.99,522.3 M1001.72,388.5 L867.92,522.3 M1007.65,388.5 L873.85,522.3 M1013.58,388.5 L879.78,522.3 M1019.51,388.5 L885.71,522.3 M1025.44,388.5 L891.64,522.3 M1031.37,388.5 L897.57,522.3 M1037.3,388.5 L903.5,522.3 M1043.23,388.5 L909.43,522.3 M1049.16,388.5 L915.36,522.3 M1055.09,388.5 L921.29,522.3 M1061.02,388.5 L927.22,522.3 M1066.95,388.5 L933.15,522.3 M1072.88,388.5 L939.08,522.3"/><path class="hl2" d="M800.1,388.5 L666.3,522.3 M806.03,388.5 L672.23,522.3 M811.96,388.5 L678.16,522.3 M817.89,388.5 L684.09,522.3 M823.82,388.5 L690.02,522.3 M829.75,388.5 L695.95,522.3 M835.68,388.5 L701.88,522.3 M841.61,388.5 L707.81,522.3 M847.54,388.5 L713.74,522.3 M853.47,388.5 L719.67,522.3 M859.4,388.5 L725.6,522.3 M865.33,388.5 L731.53,522.3 M871.26,388.5 L737.46,522.3 M877.19,388.5 L743.39,522.3 M883.12,388.5 L749.32,522.3 M889.05,388.5 L755.25,522.3 M894.98,388.5 L761.18,522.3 M900.91,388.5 L767.11,522.3 M906.84,388.5 L773.04,522.3 M912.77,388.5 L778.97,522.3 M918.7,388.5 L784.9,522.3 M924.63,388.5 L790.83,522.3 M930.56,388.5 L796.76,522.3 M936.49,388.5 L802.69,522.3 M942.42,388.5 L808.62,522.3 M948.35,388.5 L814.55,522.3 M954.28,388.5 L820.48,522.3 M960.21,388.5 L826.41,522.3 M966.14,388.5 L832.34,522.3 M972.07,388.5 L838.27,522.3 M978,388.5 L844.2,522.3 M983.93,388.5 L850.13,522.3 M989.86,388.5 L856.06,522.3 M995.79,388.5 L861.99,522.3 M1001.72,388.5 L867.92,522.3 M1007.65,388.5 L873.85,522.3 M1013.58,388.5 L879.78,522.3 M1019.51,388.5 L885.71,522.3 M1025.44,388.5 L891.64,522.3 M1031.37,388.5 L897.57,522.3 M1037.3,388.5 L903.5,522.3 M1043.23,388.5 L909.43,522.3 M1049.16,388.5 L915.36,522.3 M1055.09,388.5 L921.29,522.3 M1061.02,388.5 L927.22,522.3 M1066.95,388.5 L933.15,522.3 M1072.88,388.5 L939.08,522.3"/></g>
<circle class="k" cx="872.1" cy="455.4" r="79"/>
<circle class="k" cx="872.1" cy="455.4" r="20.6"/>
<path class="k" d="M828.53,389.5 L915.67,389.5 A79,79 0 0 1 938,411.83 L938,498.97 A79,79 0 0 1 915.67,521.3 L828.53,521.3 A79,79 0 0 1 806.2,498.97 L806.2,411.83 A79,79 0 0 1 828.53,389.5 Z"/>
<line class="c2" x1="787.3" y1="455.4" x2="957.7" y2="455.4"/>
<line class="c2" x1="872.1" y1="376.4" x2="872.1" y2="534.4"/>
<line class="t" x1="776" y1="389.5" x2="828.53" y2="389.5"/>
<line class="t" x1="776" y1="521.3" x2="828.53" y2="521.3"/>
<line class="t" x1="778.4" y1="389.5" x2="778.4" y2="521.3"/>
<path class="a" d="M778.4,389.5 L779.85,400.5 L776.95,400.5 Z"/>
<path class="a" d="M778.4,521.3 L776.95,510.3 L779.85,510.3 Z"/>
<g transform="translate(776.8 460.5) rotate(-90)"><text class="n" x="-0.3" y="0" font-size="14.6" textLength="5.4" lengthAdjust="spacingAndGlyphs">9</text><text class="n" x="5.1" y="0" font-size="14.6" textLength="5.4" lengthAdjust="spacingAndGlyphs">5</text></g>
<line class="t" x1="806.2" y1="498.97" x2="806.2" y2="545.7"/>
<line class="t" x1="938" y1="498.97" x2="938" y2="545.7"/>
<line class="t" x1="806.2" y1="543.5" x2="938" y2="543.5"/>
<path class="a" d="M806.2,543.5 L817.2,542.05 L817.2,544.95 Z"/>
<path class="a" d="M938,543.5 L927,544.95 L927,542.05 Z"/>
<g transform="translate(867.2 542.2)"><text class="n" x="-0.3" y="0" font-size="14.6" textLength="5.1" lengthAdjust="spacingAndGlyphs">9</text><text class="n" x="4.8" y="0" font-size="14.6" textLength="5.1" lengthAdjust="spacingAndGlyphs">5</text></g>
<g transform="translate(157.9 306.3)"><text class="s" x="-0.3" y="0" font-size="12.3" textLength="4.43" lengthAdjust="spacingAndGlyphs">2</text><text class="s" x="4.13" y="0" font-size="12.3" textLength="4.43" lengthAdjust="spacingAndGlyphs">-</text><text class="s" x="8.56" y="0" font-size="12.3" textLength="4.43" lengthAdjust="spacingAndGlyphs">3</text><text class="s" x="12.99" y="0" font-size="12.3" textLength="4.43" lengthAdjust="spacingAndGlyphs">/</text><text class="s" x="17.43" y="0" font-size="12.3" textLength="4.43" lengthAdjust="spacingAndGlyphs">8</text><text class="s" x="21.86" y="0" font-size="12.3" textLength="4.43" lengthAdjust="spacingAndGlyphs">R</text><text class="s" x="26.29" y="0" font-size="12.3" textLength="4.43" lengthAdjust="spacingAndGlyphs">E</text><text class="s" x="30.72" y="0" font-size="12.3" textLength="4.43" lengthAdjust="spacingAndGlyphs">G</text></g>
<g transform="translate(197.67 306.3)"><text class="s" x="-0.3" y="0" font-size="12.3" textLength="4.69" lengthAdjust="spacingAndGlyphs">5</text></g>
<path d="M202.88,297.8 H208.91 M204.48,298 L203.68,300.7 H209.31 M206.88,298 V306.1 Q206.88,307.3 205.48,307 M206.68,300.9 Q205.28,305.3 202.48,306.7" fill="none" stroke="#111" stroke-width="0.95"/>
<g transform="translate(209.97 306.3)"><text class="s" x="-0.3" y="0" font-size="12.3" textLength="4.43" lengthAdjust="spacingAndGlyphs">/</text><text class="s" x="4.13" y="0" font-size="12.3" textLength="4.43" lengthAdjust="spacingAndGlyphs">2</text><text class="s" x="8.55" y="0" font-size="12.3" textLength="4.43" lengthAdjust="spacingAndGlyphs">5</text><text class="s" x="13.51" y="0" font-size="12.3" textLength="2.21" lengthAdjust="spacingAndGlyphs">.</text><text class="s" x="17.4" y="0" font-size="12.3" textLength="4.43" lengthAdjust="spacingAndGlyphs">4</text></g>
<g transform="translate(905 332.6)"><text class="s" x="-0.3" y="0" font-size="12.3" textLength="4.4" lengthAdjust="spacingAndGlyphs">3</text><text class="s" x="4.1" y="0" font-size="12.3" textLength="4.4" lengthAdjust="spacingAndGlyphs">-</text><text class="s" x="8.49" y="0" font-size="12.3" textLength="4.4" lengthAdjust="spacingAndGlyphs">1</text><text class="s" x="12.89" y="0" font-size="12.3" textLength="4.4" lengthAdjust="spacingAndGlyphs">/</text><text class="s" x="17.28" y="0" font-size="12.3" textLength="4.4" lengthAdjust="spacingAndGlyphs">2</text><text class="s" x="21.68" y="0" font-size="12.3" textLength="4.4" lengthAdjust="spacingAndGlyphs">R</text><text class="s" x="26.07" y="0" font-size="12.3" textLength="4.4" lengthAdjust="spacingAndGlyphs">E</text><text class="s" x="30.47" y="0" font-size="12.3" textLength="4.4" lengthAdjust="spacingAndGlyphs">G</text></g>
<g transform="translate(944.44 332.6)"><text class="s" x="-0.3" y="0" font-size="12.3" textLength="4.66" lengthAdjust="spacingAndGlyphs">5</text></g>
<path d="M949.62,324.1 H955.59 M951.22,324.3 L950.42,327 H955.99 M953.62,324.3 V332.4 Q953.62,333.6 952.22,333.3 M953.42,327.2 Q952.02,331.6 949.22,333" fill="none" stroke="#111" stroke-width="0.95"/>
<g transform="translate(956.64 332.6)"><text class="s" x="-0.3" y="0" font-size="12.3" textLength="4.39" lengthAdjust="spacingAndGlyphs">/</text><text class="s" x="4.09" y="0" font-size="12.3" textLength="4.39" lengthAdjust="spacingAndGlyphs">2</text><text class="s" x="8.48" y="0" font-size="12.3" textLength="4.39" lengthAdjust="spacingAndGlyphs">5</text><text class="s" x="13.4" y="0" font-size="12.3" textLength="2.2" lengthAdjust="spacingAndGlyphs">.</text><text class="s" x="17.26" y="0" font-size="12.3" textLength="4.39" lengthAdjust="spacingAndGlyphs">4</text></g>
</svg>
</body></html>
